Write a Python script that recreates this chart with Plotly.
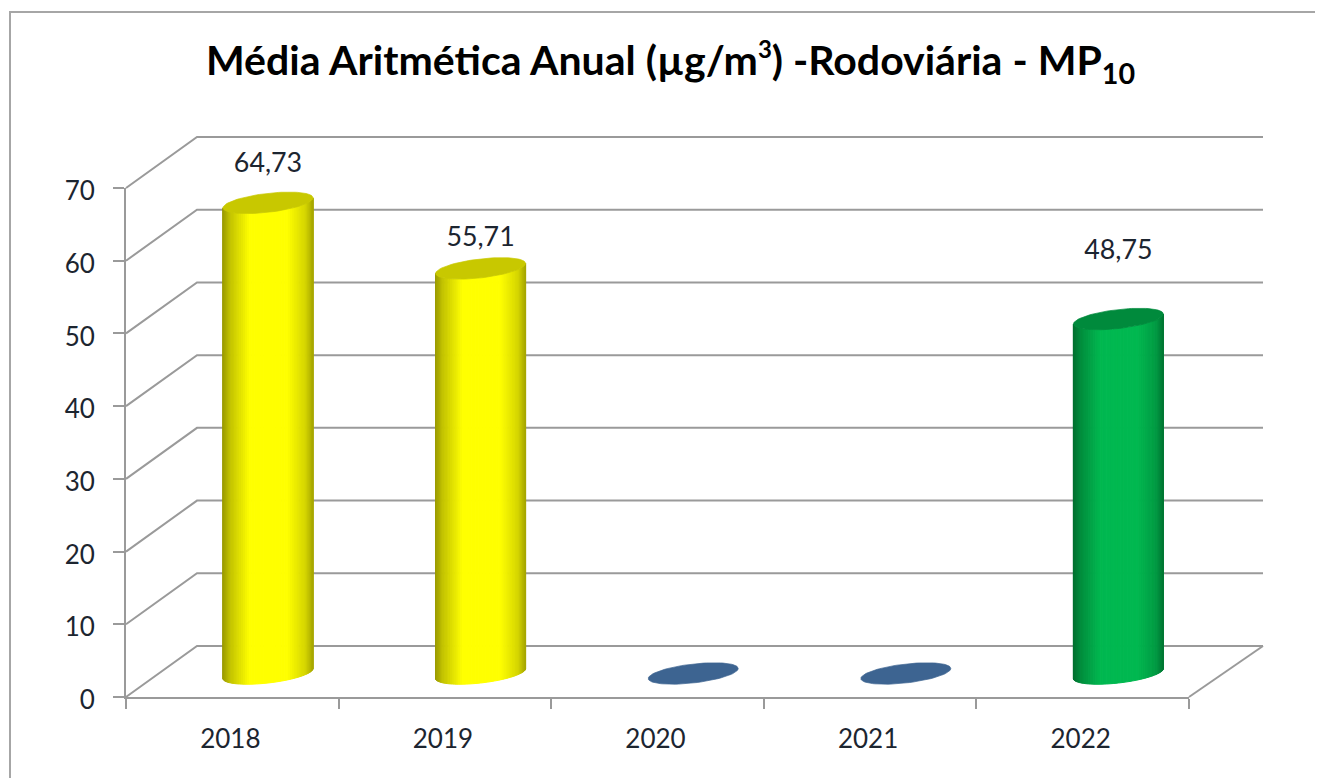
import numpy as np
import plotly.graph_objects as go

# ---- chart data ----
years = ["2018", "2019", "2020", "2021", "2022"]
values = [64.73, 55.71, 0, 0, 48.75]
value_labels = ["64,73", "55,71", "", "", "48,75"]
y_ticks = [0, 10, 20, 30, 40, 50, 60, 70]
title_text = ("<b>Média Aritmética Anual (µg/m<sup><span style=\"font-size:24px\">3</span></sup>)"
              " -Rodoviária - MP<sub>10</sub></b>")

# ---- styling / geometry ----
PAGE = 8   # default page margin of the written html
W, H = 1323, 778 - PAGE
FONT = "Lato"
X0_PX, X1_PX, Y0_PX, Y70_PX = 126 - PAGE, 1189 - PAGE, 697 - PAGE, 188 - PAGE
UX = (X1_PX - X0_PX) / 5      # px per category
UY = (Y0_PX - Y70_PX) / 70    # px per value unit
DEPTH_X, DEPTH_XR, DEPTH_Y = 71 / UX, 74 / UX, 51 / UY     # offset of the back wall
BAR_DX, BAR_DY = 35.7 / UX, 23.5 / UY   # offset of bars inside the depth
RAD_X, RAD_Y, SHEAR = 45 / UX, 9.5 / UY, 5 / UY
LABEL_LIFT = [3.8, 2.7, 0, 0, 7.8]      # data-label lift above the bar top
GRID = "#9a9a9a"

body_colors = {"2018": ("#ffff00", "#c8c800"), "2019": ("#ffff00", "#c8c800"),
               "2022": ("#00b850", "#008a3c")}
zero_color = "#3d6491"


def shade(hexcol, f):
    r, g, b = (int(hexcol[i:i + 2], 16) for i in (1, 3, 5))
    return f"rgb({int(r * f)},{int(g * f)},{int(b * f)})"


def profile(t):
    """brightness across the cylinder, t = 0 (left) .. 1 (right)"""
    return float(np.interp(t, [0, .08, .3, .72, .92, 1], [.6, .76, 1, 1, .84, .66]))


fig = go.Figure()

# back wall + side wall grid, floor
for v in y_ticks:
    fig.add_trace(go.Scatter(
        x=[0, DEPTH_X, 5 + DEPTH_XR], y=[v, v + DEPTH_Y, v + DEPTH_Y],
        mode="lines", line=dict(color=GRID, width=2), hoverinfo="skip", showlegend=False))
fig.add_trace(go.Scatter(
    x=[5, 5 + DEPTH_XR], y=[0, DEPTH_Y], mode="lines",
    line=dict(color=GRID, width=2), hoverinfo="skip", showlegend=False))

# cylinders
for i, (yr, val) in enumerate(zip(years, values)):
    cx = i + 0.5 + BAR_DX
    top = val + BAR_DY
    base = BAR_DY
    if val > 0:
        main, cap = body_colors[yr]
        angles = np.linspace(np.pi, 0, 61)
        for a0, a1 in zip(angles[:-1], angles[1:]):
            u0, u1 = np.cos(a0), np.cos(a1)
            low0, low1 = SHEAR * u0 - RAD_Y * np.sin(a0), SHEAR * u1 - RAD_Y * np.sin(a1)
            col = shade(main, profile(((u0 + u1) / 2 + 1) / 2))
            fig.add_trace(go.Scatter(
                x=[cx + RAD_X * u0, cx + RAD_X * u1, cx + RAD_X * u1, cx + RAD_X * u0, cx + RAD_X * u0],
                y=[base + low0, base + low1, top + low1, top + low0, base + low0],
                mode="lines", fill="toself", fillcolor=col, line=dict(color=col, width=1),
                hoverinfo="skip", showlegend=False))
    else:
        cap = zero_color
    t = np.linspace(0, 2 * np.pi, 90)
    fig.add_trace(go.Scatter(
        x=cx + RAD_X * np.cos(t), y=top + SHEAR * np.cos(t) + RAD_Y * np.sin(t),
        mode="lines", fill="toself", fillcolor=cap, line=dict(color=cap, width=0.7),
        hoverinfo="skip", showlegend=False))
    if value_labels[i]:
        fig.add_trace(go.Scatter(
            x=[cx], y=[top + RAD_Y + LABEL_LIFT[i]], mode="text", text=[value_labels[i]],
            textposition="middle center", textfont=dict(family=FONT, size=26.8, color="#1c2530"),
            hoverinfo="skip", showlegend=False))

# invisible series carrying the tick axes
fig.add_trace(go.Bar(x=years, y=values, xaxis="x2", yaxis="y2", opacity=0,
                     hoverinfo="skip", showlegend=False))

fig.update_layout(
    width=W, height=H, margin=dict(l=0, r=0, t=0, b=0, pad=0, autoexpand=False),
    paper_bgcolor="white", plot_bgcolor="rgba(0,0,0,0)", showlegend=False,
    annotations=[dict(text=title_text, xref="paper", yref="paper", x=(670 - PAGE) / W,
                      y=1 - (62 - PAGE) / H, xanchor="center", yanchor="middle", showarrow=False,
                      font=dict(family=FONT, size=41, color="black"))],
    xaxis=dict(visible=False, range=[-X0_PX / UX, (W - X0_PX) / UX], domain=[0, 1], fixedrange=True),
    yaxis=dict(visible=False, range=[-(H - Y0_PX) / UY, Y0_PX / UY], domain=[0, 1], fixedrange=True),
    xaxis2=dict(type="category", categoryorder="array", categoryarray=years, range=[-0.5, 4.5],
                domain=[X0_PX / W, X1_PX / W], anchor="y2", tickson="boundaries",
                ticks="outside", ticklen=10, tickwidth=2, tickcolor=GRID,
                showline=True, linecolor=GRID, linewidth=2, showgrid=False, zeroline=False,
                ticklabelstandoff=18, ticklabelshift=-2,
                tickfont=dict(family=FONT, size=26, color="#1c2530")),
    yaxis2=dict(range=[0, 70], tickvals=y_ticks, domain=[(H - Y0_PX) / H, (H - Y70_PX) / H],
                anchor="x2", ticks="outside", ticklen=11, tickwidth=2, tickcolor=GRID,
                showline=True, linecolor=GRID, linewidth=2, showgrid=False, zeroline=False,
                ticklabelstandoff=13, ticklabelshift=3,
                tickfont=dict(family=FONT, size=26, color="#1c2530")),
    shapes=[dict(type="path", xref="paper", yref="paper",
                 path=f"M {(10 - PAGE) / W} 0 L {(10 - PAGE) / W} {1 - (12 - PAGE) / H} L 1 {1 - (12 - PAGE) / H}",
                 line=dict(color="#a6a6a6", width=2))],
)

fig.write_html("out.html")
